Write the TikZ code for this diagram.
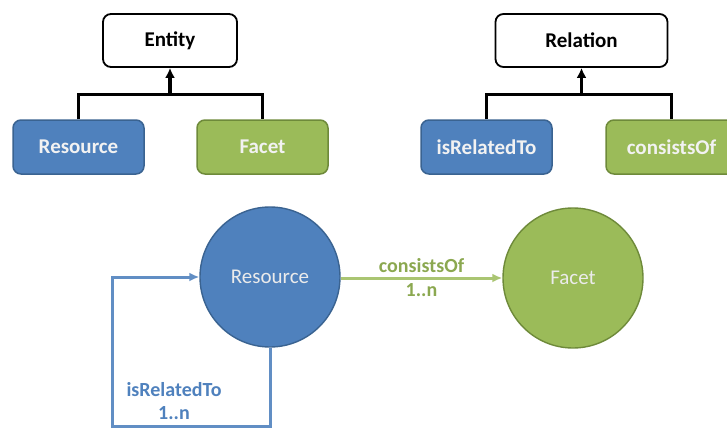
\documentclass[tikz,border=0pt]{standalone}
\usepackage{fontspec}
\setmainfont{Carlito}
\usetikzlibrary{arrows.meta}
\definecolor{rblue}{HTML}{4F81BD}
\definecolor{rblueD}{HTML}{3A6391}
\definecolor{fgreen}{HTML}{9BBB59}
\definecolor{fgreenD}{HTML}{6E8A3A}
\begin{document}
\begin{tikzpicture}[x=1pt,y=-1pt,
  topbox/.style={draw=black,line width=1.8pt,rounded corners=8pt,fill=white,minimum width=134pt,minimum height=53pt,font=\fontsize{21}{24}\selectfont\bfseries,text=black},
  bluebox/.style={draw=rblueD,line width=1.5pt,rounded corners=8pt,fill=rblue,minimum width=131pt,minimum height=54pt,font=\fontsize{21}{24}\selectfont\bfseries,text=white!95!black},
  greenbox/.style={draw=fgreenD,line width=1.5pt,rounded corners=8pt,fill=fgreen,minimum width=131pt,minimum height=54pt,font=\fontsize{21}{24}\selectfont\bfseries,text=white!95!black},
  tree/.style={draw=black,line width=3.2pt},
  circ/.style={circle,minimum size=140pt,inner sep=0pt,font=\fontsize{21}{24}\selectfont,text=white!92!black},
  lbl/.style={font=\fontsize{20}{23}\selectfont\bfseries,align=center}
]
\clip (0,0) rectangle (727,428);
\useasboundingbox (0,0) rectangle (727,428);
% top-left hierarchy
\node[topbox] (entity) at (170,40.5) {Entity};
\node[bluebox] (resbox) at (78.5,147) {Resource};
\node[greenbox] (facbox) at (262.5,147) {Facet};
\coordinate (ej) at (170,94.5);
\draw[tree] (resbox.north) |- (ej) -| (facbox.north);
\draw[tree,-{Latex[length=10pt,width=10pt]}] (ej) -- (entity.south);
% top-right hierarchy
\node[topbox,minimum width=172pt] (relation) at (581.5,40.5) {Relation};
\node[bluebox] (relbox) at (486.5,147) {isRelatedTo};
\node[greenbox] (conbox) at (671.5,147) {consistsOf};
\coordinate (rj) at (581.5,94.5);
\draw[tree] (relbox.north) |- (rj) -| (conbox.north);
\draw[tree,-{Latex[length=10pt,width=10pt]}] (rj) -- (relation.south);
% bottom graph
\node[circ,fill=rblue,draw=rblueD,line width=1.4pt] (rc) at (270,277) {Resource};
\node[circ,fill=fgreen,draw=fgreenD,line width=1.4pt] (fc) at (573,278) {Facet};
\draw[draw=fgreen!85!white,line width=3pt,-{Latex[length=10pt,width=9pt]}] (rc.east |- fc.west) -- node[lbl,text=fgreen!90!black,above=1pt] {consistsOf} node[lbl,text=fgreen!90!black,below=1pt] {1..n} (fc.west);
\coordinate (lb) at (112,426);
\draw[draw=rblue!90!white,line width=3pt,-{Latex[length=10pt,width=9pt]}] (rc.south) |- (lb) |- (rc.west);
\node[lbl,text=rblue] (ilbl) at (174,390) {isRelatedTo};
\node[lbl,text=rblue] (nlbl) at (174,413) {1..n};
\end{tikzpicture}
\end{document}
